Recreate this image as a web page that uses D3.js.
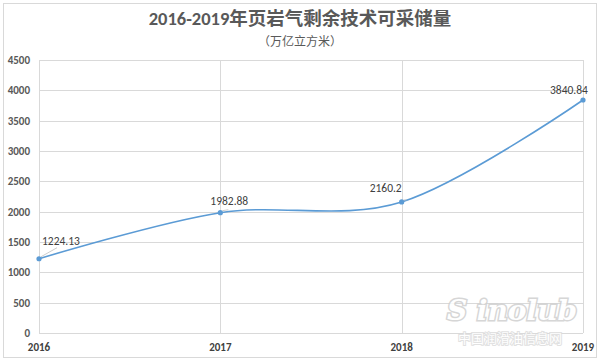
<!DOCTYPE html>
<html><head><meta charset="utf-8">
<script src="https://cdn.jsdelivr.net/npm/d3@7"></script>
<style>body{margin:0;background:#fff}svg{display:block}</style>
</head><body>
<svg id="c" width="600" height="362"></svg>
<script>
const years = ["2016","2017","2018","2019"];
const values = [1224.13, 1982.88, 2160.2, 3840.84];
const labels = ["1224.13","1982.88","2160.2","3840.84"];
const yTicks = [0,500,1000,1500,2000,2500,3000,3500,4000,4500];

const svg = d3.select("#c");
const font = "Calibri, 'Liberation Sans', 'Noto Sans CJK SC', sans-serif";
svg.append("rect").attr("x",3.5).attr("y",3.5).attr("width",593).attr("height",354)
  .attr("fill","#fff").attr("stroke","#d9d9d9");

const x = d3.scalePoint().domain(years).range([39,583]);
const y = d3.scaleLinear().domain([0,4500]).range([333,60]);

// horizontal grid
svg.append("g").selectAll("line").data(yTicks).join("line")
  .attr("x1",39).attr("x2",583).attr("y1",d=>Math.round(y(d))+0.5).attr("y2",d=>Math.round(y(d))+0.5)
  .attr("stroke","#d9d9d9");
// vertical grid
svg.append("g").selectAll("line").data(years).join("line")
  .attr("x1",d=>Math.round(x(d))+0.5).attr("x2",d=>Math.round(x(d))+0.5).attr("y1",60).attr("y2",333)
  .attr("stroke","#d9d9d9");

// y axis labels
svg.append("g").selectAll("text").data(yTicks).join("text")
  .attr("x",30).attr("y",d=>y(d)+4).attr("text-anchor","end")
  .attr("font-family",font).attr("font-size",11).attr("font-weight","bold").attr("fill","#595959")
  .text(d=>d);
// x axis labels
svg.append("g").selectAll("text").data(years).join("text")
  .attr("x",d=>x(d)).attr("y",351).attr("text-anchor","middle")
  .attr("font-family",font).attr("font-size",11).attr("font-weight","bold").attr("fill","#404040")
  .text(d=>d);

const pts = years.map((d,i)=>[x(d),y(values[i])]);
svg.append("path").attr("d",d3.line().curve(d3.curveCatmullRom.alpha(0))(pts))
  .attr("fill","none").attr("stroke","#5b9bd5").attr("stroke-width",1.6);
svg.append("g").selectAll("circle").data(pts).join("circle")
  .attr("cx",d=>d[0]).attr("cy",d=>d[1]).attr("r",2.6).attr("fill","#5b9bd5");

// data labels
const off = [[3,-14],[-10,-8],[-32,-10],[-33,-6]];
svg.append("g").selectAll("text").data(pts).join("text")
  .attr("x",(d,i)=>d[0]+off[i][0]).attr("y",(d,i)=>d[1]+off[i][1])
  .attr("font-family",font).attr("font-size",11.5).attr("fill","#404040")
  .text((d,i)=>labels[i]);
// leader lines
svg.append("g").selectAll("line").data(pts.slice(0,3)).join("line")
  .attr("x1",d=>d[0]+2).attr("y1",d=>d[1]-2).attr("x2",(d,i)=>d[0]+[18,8,5][i]).attr("y2",(d,i)=>d[1]-[11,3,2][i])
  .attr("stroke","#bfbfbf").attr("stroke-width",0.8);

// title
svg.append("text").attr("x",300).attr("y",25).attr("text-anchor","middle")
  .attr("font-family",font).attr("font-size",18.5).attr("font-weight","bold").attr("fill","#595959")
  .text("2016-2019年页岩气剩余技术可采储量");
svg.append("text").attr("x",300).attr("y",46).attr("text-anchor","middle")
  .attr("font-family","'Noto Sans CJK SC', sans-serif").attr("font-size",12).attr("fill","#595959")
  .text("（万亿立方米）");

// watermark
const wm = svg.append("g").attr("opacity",0.85);
wm.append("text").attr("x",510).attr("y",343).attr("text-anchor","middle")
  .attr("font-family","'Noto Sans CJK SC', sans-serif").attr("font-size",13).attr("fill","#fff")
  .attr("stroke","#dcdcdc").attr("stroke-width",2).attr("paint-order","stroke")
  .text("中国润滑油信息网");
wm.append("text").attr("x",512).attr("y",320).attr("text-anchor","middle")
  .attr("font-family","'DejaVu Serif', serif").attr("font-style","italic").attr("font-weight","bold").attr("font-size",28).attr("fill","#fff")
  .attr("stroke","#cfcfcf").attr("stroke-width",3).attr("paint-order","stroke")
  .text("S inolub");
</script>
</body></html>
